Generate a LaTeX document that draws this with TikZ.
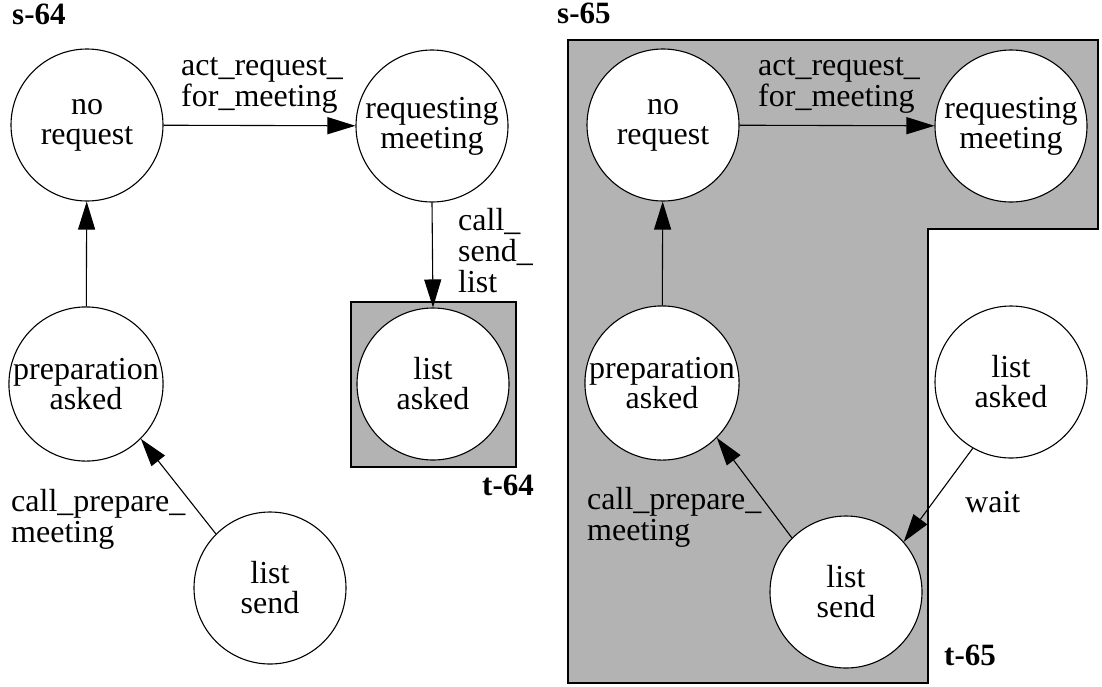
\documentclass[tikz,border=0pt]{standalone}
\usepackage{fontspec}
\setmainfont{Liberation Serif}
\usetikzlibrary{arrows.meta}
\definecolor{shade}{RGB}{179,179,179}
\tikzset{
  state/.style={circle,draw,fill=white,line width=1.1pt,minimum size=152pt,inner sep=0pt,align=center,font=\fontsize{32}{30}\selectfont},
  lbl/.style={inner sep=0pt,align=left,anchor=base west,font=\fontsize{32}{31}\selectfont},
  ttl/.style={inner sep=0pt,anchor=base west,font=\fontsize{31}{31}\selectfont\bfseries},
  edge/.style={line width=1.1pt,-{Triangle[length=28pt,width=17pt]}},
  region/.style={fill=shade,draw,line width=1.1pt}
}
\begin{document}
\begin{tikzpicture}[x=1pt,y=-1pt]
\useasboundingbox (0,0) rectangle (1102,686);
% left part
\node[ttl] (s64) at (12,24) {s-64};
\draw[region] (351,302) rectangle (516,467);
\node[state] (nr) at (87,125) {no\\request};
\node[state] (rm) at (432,126) {requesting\\meeting};
\node[state] (pa) at (86,384) {preparation\\asked};
\node[state] (ls) at (270,588) {list\\send};
\node[state] (la) at (433,384) {list\\asked};
\draw[edge] (nr) -- (rm);
\draw[edge] (rm.south) -- (la.north);
\draw[edge] (pa) -- (nr);
\draw[edge] (ls.135) -- (pa.-45);
\node[lbl] (l1) at (181,106) {act\_request\_\\for\_meeting};
\node[lbl] (l2) at (458,292) {call\_\\send\_\\list};
\node[lbl] (l3) at (11,542) {call\_prepare\_\\meeting};
\node[ttl] (t64) at (482,495) {t-64};
% right part
\node[ttl] (s65) at (557,23) {s-65};
\draw[region] (568,40) -- (1098,40) -- (1098,229) -- (928,229) -- (928,683) -- (568,683) -- cycle;
\node[state] (nr2) at (663,125) {no\\request};
\node[state] (rm2) at (1011,126) {requesting\\meeting};
\node[state] (pa2) at (662,383) {preparation\\asked};
\node[state] (ls2) at (846,592) {list\\send};
\node[state] (la2) at (1011,382) {list\\asked};
\draw[edge] (nr2) -- (rm2);
\draw[edge] (pa2) -- (nr2);
\draw[edge] (ls2.135) -- (pa2.-45);
\draw[edge] (la2.240) -- (ls2.41);
\node[lbl] (r1) at (758,106) {act\_request\_\\for\_meeting};
\node[lbl] (r3) at (587,540) {call\_prepare\_\\meeting};
\node[lbl] (r4) at (965,512) {wait};
\node[ttl] (t65) at (944,665) {t-65};
\end{tikzpicture}
\end{document}
